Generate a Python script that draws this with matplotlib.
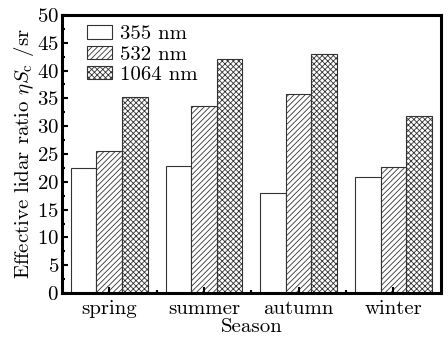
import numpy as np
import matplotlib
matplotlib.use("Agg")
import matplotlib.pyplot as plt
from matplotlib.ticker import MultipleLocator, FixedLocator

seasons = ["spring", "summer", "autumn", "winter"]
labels = ["355 nm", "532 nm", "1064 nm"]
v355 = [22.5, 22.8, 17.9, 20.8]
v532 = [25.5, 33.7, 35.8, 22.7]
v1064 = [35.3, 42.0, 43.0, 31.8]
hatches = ["", "//////", "xxxxxx"]

plt.rcParams["font.family"] = "cmr10"
plt.rcParams["mathtext.fontset"] = "cm"
plt.rcParams["axes.unicode_minus"] = False
plt.rcParams["axes.formatter.use_mathtext"] = True
plt.rcParams["hatch.linewidth"] = 0.6
plt.rcParams["hatch.color"] = "#444444"

fig = plt.figure(figsize=(4.48, 3.38), dpi=100)
ax = fig.add_axes([0.138, 0.133, 0.846, 0.823])

x = np.arange(1, len(seasons) + 1)
w = 0.27
for i, vals in enumerate([v355, v532, v1064]):
    ax.bar(x + (i - 1) * w, vals, width=w, facecolor="white", edgecolor="#333333",
           linewidth=0.8, hatch=hatches[i], label=labels[i])

ax.set_xlim(0.5, 4.5)
ax.set_ylim(0, 50)
ax.set_xticks(x)
ax.set_xticklabels(seasons)
ax.xaxis.set_minor_locator(FixedLocator([1.5, 2.5, 3.5]))
ax.yaxis.set_major_locator(MultipleLocator(5))
ax.yaxis.set_minor_locator(MultipleLocator(2.5))
ax.tick_params(axis="both", which="major", direction="in", length=4, width=1.5,
               labelsize=15, pad=2)
ax.tick_params(axis="both", which="minor", direction="in", length=2, width=1.5)
ax.tick_params(axis="x", which="major", pad=5)

for s in ax.spines.values():
    s.set_linewidth(2.2)

ax.set_xlabel("Season", fontsize=15, labelpad=0)
ax.set_ylabel(r"Effective lidar ratio $\eta S_{\rm c}$ /sr", fontsize=15, labelpad=1)

ax.legend(loc="upper left", frameon=False, fontsize=15, handlelength=1.2,
          handleheight=0.6, handletextpad=0.35, labelspacing=0.12,
          borderaxespad=0.1, bbox_to_anchor=(0.04, 1.0))

fig.savefig("out.png", dpi=100)
